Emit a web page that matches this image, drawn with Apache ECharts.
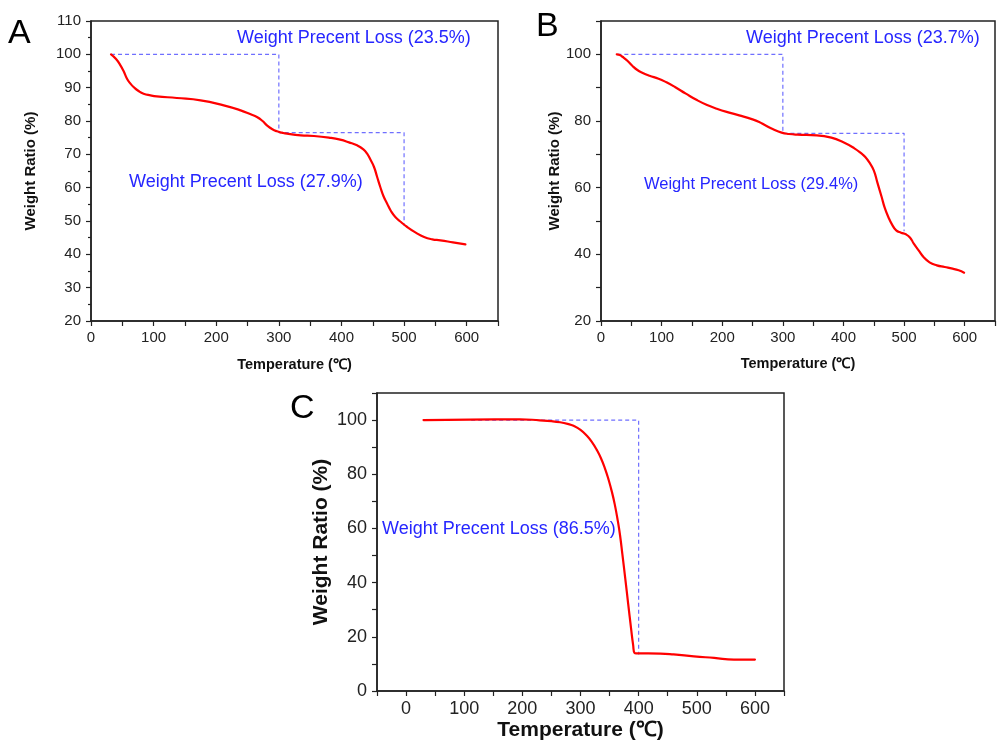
<!DOCTYPE html>
<html>
<head>
<meta charset="utf-8">
<script src="https://cdn.jsdelivr.net/npm/echarts@6/dist/echarts.min.js"></script>
<style>
  html, body { margin: 0; padding: 0; background: #fff; }
  #chart { width: 998px; height: 742px; }
</style>
</head>
<body>
<div id="chart"></div>
<script>
// TGA curves: temperature (℃) and remaining weight ratio (%) for three samples
var tempA = [32, 40, 47, 52, 57.5, 63, 68, 76, 84, 95, 105, 137, 175, 212, 239, 255, 265, 274, 281, 289, 297, 305, 313, 335, 356, 380, 398, 412, 425, 435, 441, 446, 452, 457, 462, 467, 473, 479, 486, 495, 505, 518, 532, 545, 558, 578, 598];
var ratioA = [100, 98.6, 96.7, 95, 92.7, 91.2, 90.2, 89, 88.2, 87.7, 87.4, 86.9, 86.2, 84.7, 83.2, 82, 81.2, 80, 78.7, 77.6, 76.9, 76.5, 76.2, 75.7, 75.5, 75, 74.4, 73.6, 72.7, 71.5, 70.2, 68.5, 66.2, 63.2, 60.2, 57.5, 55.2, 53, 51.2, 49.7, 48.2, 46.6, 45.2, 44.5, 44.2, 43.6, 43];

var tempB = [26, 31, 36, 44, 52, 60, 68, 80, 95, 108, 122, 140, 159, 175, 191, 210, 228, 250, 261, 271, 284, 298, 310, 324, 356, 380, 399, 418, 430, 436, 443, 450, 456, 463, 468, 474, 480, 487, 495, 503, 510, 516, 524, 532, 542, 554, 567, 580, 590, 599];
var ratioB = [100, 99.8, 99.2, 98, 96.5, 95.3, 94.5, 93.6, 92.7, 91.6, 90.2, 88.2, 86.2, 84.8, 83.7, 82.6, 81.7, 80.5, 79.7, 78.7, 77.5, 76.5, 76.1, 75.9, 75.7, 75, 73.7, 71.8, 70.2, 69.2, 67.5, 65.2, 61.5, 57.2, 54, 51.2, 49, 47.2, 46.5, 46, 45, 43.2, 41.2, 39.2, 37.6, 36.7, 36.2, 35.7, 35.2, 34.5];

var tempC = [30, 110, 196, 230, 250, 265, 278, 288, 300, 311, 320, 328, 335, 342, 348, 354, 359, 364, 368, 372, 377, 382, 387, 390.5, 393, 396, 437, 460, 495, 530, 564, 600];
var ratioC = [100, 100.2, 100.3, 99.9, 99.6, 99.2, 98.6, 97.9, 96.4, 94.2, 91.8, 89, 86, 82.2, 78.2, 73.5, 68.8, 63, 57.5, 50.5, 41.5, 32.2, 23, 17, 14, 13.9, 13.8, 13.5, 12.8, 12.2, 11.6, 11.6];

// weight loss steps (%) and the temperatures bounding each step
var lossA = [23.5, 27.9];
var stepTempA = [32, 300, 500];
var lossB = [23.7, 29.4];
var stepTempB = [27, 300, 500];
var lossC = [86.5];
var stepTempC = [112, 400];

var panelLetters = ['A', 'B', 'C'];
var xTitle = 'Temperature (℃)';
var yTitle = 'Weight Ratio (%)';

function pairs(xs, ys) {
  return xs.map(function (x, i) { return [x, ys[i]]; });
}

// staircase guide: horizontal at each level, then a drop by the stated loss
function steps(temps, losses) {
  var level = 100;
  var pts = [[temps[0], level]];
  for (var i = 0; i < losses.length; i++) {
    pts.push([temps[i + 1], level]);
    level = Math.round((level - losses[i]) * 10) / 10;
    pts.push([temps[i + 1], level]);
  }
  return pts;
}

function lossText(v) { return 'Weight Precent Loss (' + v + '%)'; }

var FONT = '"Liberation Sans", Arial, sans-serif';
var AXIS_COLOR = '#222';
var GUIDE_COLOR = '#6f6fff';
var NOTE_COLOR = '#2626ff';

function xAxisCfg(grid, min, max, fs, gap, nfs) {
  return {
    gridIndex: grid, type: 'value', min: min, max: max, interval: 50,
    name: xTitle, nameLocation: 'middle', nameGap: gap,
    nameTextStyle: { fontFamily: FONT, fontWeight: 'bold', fontSize: nfs, color: '#111' },
    axisLine: { show: true, onZero: false, lineStyle: { color: AXIS_COLOR, width: 1.5 } },
    axisTick: { show: true, inside: false, length: 5, lineStyle: { color: AXIS_COLOR, width: 1.2 } },
    axisLabel: {
      fontFamily: FONT, fontSize: fs, color: '#222', margin: 9,
      formatter: function (v) { return v % 100 === 0 ? String(v) : ''; }
    },
    splitLine: { show: false }
  };
}

function yAxisCfg(grid, min, max, every, fs, gap, nfs) {
  return {
    gridIndex: grid, type: 'value', min: min, max: max, interval: 10,
    name: yTitle, nameLocation: 'middle', nameGap: gap,
    nameTextStyle: { fontFamily: FONT, fontWeight: 'bold', fontSize: nfs, color: '#111' },
    axisLine: { show: true, onZero: false, lineStyle: { color: AXIS_COLOR, width: 1.5 } },
    axisTick: { show: true, inside: false, length: 5, lineStyle: { color: AXIS_COLOR, width: 1.2 } },
    minorTick: { show: every === 10, splitNumber: 2, length: 3, lineStyle: { color: AXIS_COLOR, width: 1.2 } },
    axisLabel: {
      fontFamily: FONT, fontSize: fs, color: '#222', margin: 10,
      formatter: function (v) { return v % every === 0 ? String(v) : ''; }
    },
    splitLine: { show: false }
  };
}

function curve(idx, xs, ys) {
  return {
    type: 'line', xAxisIndex: idx, yAxisIndex: idx, data: pairs(xs, ys),
    showSymbol: false, smooth: 0.5, z: 3,
    lineStyle: { color: '#ff0000', width: 2.2, cap: 'round', join: 'round' }, silent: true
  };
}

function guide(idx, temps, losses) {
  return {
    type: 'line', xAxisIndex: idx, yAxisIndex: idx, data: steps(temps, losses),
    showSymbol: false, z: 2, silent: true,
    lineStyle: { color: GUIDE_COLOR, width: 1.2, type: [4, 3] }
  };
}

function note(x, cy, text, size) {
  return {
    type: 'text', left: x, top: cy - size / 2,
    style: { text: text, fontFamily: FONT, fontSize: size, fill: NOTE_COLOR }
  };
}

function letter(x, cy, text) {
  return {
    type: 'text', left: x, top: cy - 17,
    style: { text: text, fontFamily: FONT, fontSize: 34, fill: '#000' }
  };
}

var gridStyle = { show: true, borderColor: AXIS_COLOR, borderWidth: 1.5, backgroundColor: 'transparent' };

var option = {
  animation: false,
  backgroundColor: '#fff',
  grid: [
    Object.assign({ left: 91, top: 21, width: 407, height: 300 }, gridStyle),
    Object.assign({ left: 601, top: 21, width: 406, height: 300 }, gridStyle),
    Object.assign({ left: 377, top: 393, width: 407, height: 298 }, gridStyle)
  ],
  xAxis: [
    xAxisCfg(0, 0, 650, 15, 36, 14.5),
    xAxisCfg(1, 0, 650, 15, 35, 14.5),
    xAxisCfg(2, -50, 650, 18, 29, 21)
  ],
  yAxis: [
    yAxisCfg(0, 20, 110, 10, 15, 53, 15),
    yAxisCfg(1, 20, 110, 20, 15, 34, 15),
    yAxisCfg(2, 0, 110, 20, 18, 45, 21)
  ],
  series: [
    guide(0, stepTempA, lossA), curve(0, tempA, ratioA),
    guide(1, stepTempB, lossB), curve(1, tempB, ratioB),
    guide(2, stepTempC, lossC), curve(2, tempC, ratioC)
  ],
  graphic: [
    letter(8, 34, panelLetters[0]),
    letter(536, 27, panelLetters[1]),
    letter(290, 409, panelLetters[2]),
    note(237, 38, lossText(lossA[0]), 18),
    note(129, 182, lossText(lossA[1]), 18),
    note(746, 38, lossText(lossB[0]), 18),
    note(644, 184, lossText(lossB[1]), 16.5),
    note(382, 529, lossText(lossC[0]), 18)
  ]
};

var chart = echarts.init(document.getElementById('chart'), null, { renderer: 'canvas' });
chart.setOption(option);
</script>
</body>
</html>
